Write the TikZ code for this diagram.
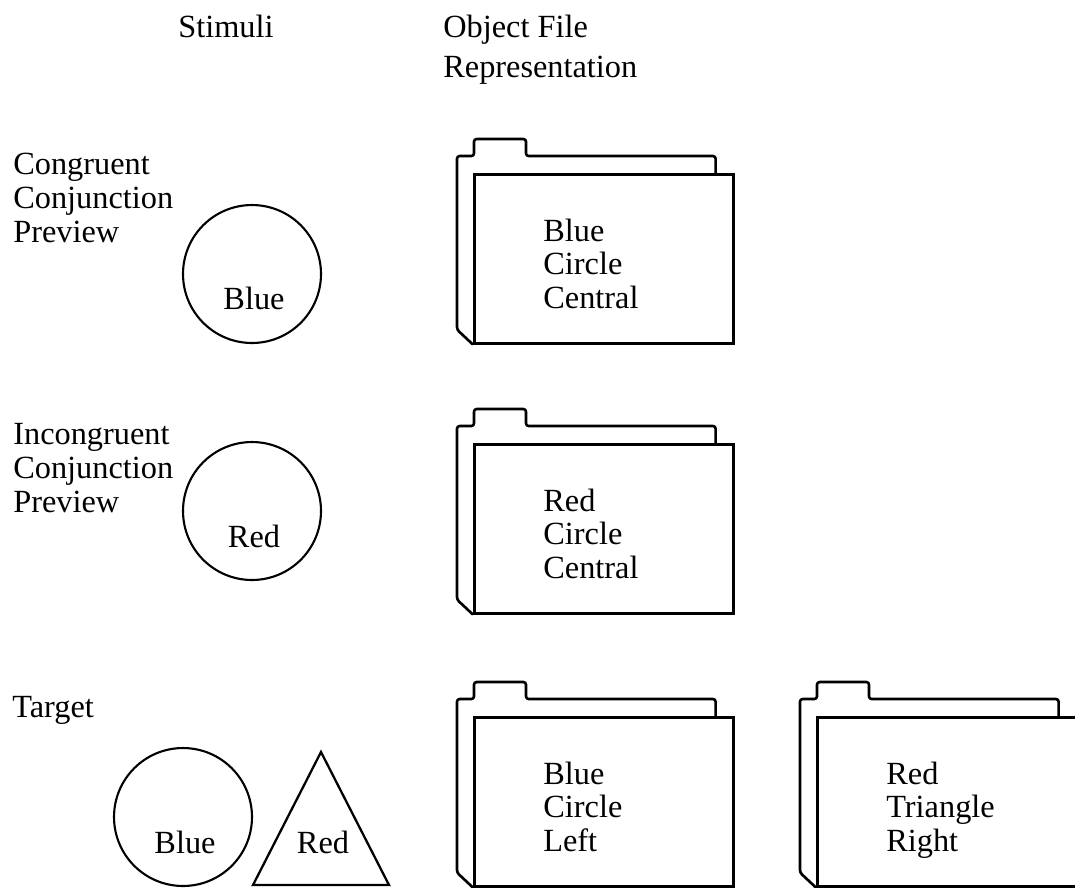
\documentclass[tikz,border=0pt]{standalone}
\usepackage{fontspec}
\setmainfont{Liberation Serif}
\usepackage{tikz}
\usetikzlibrary{positioning,calc}

\begin{document}
\begin{tikzpicture}[
    x=0.02cm, y=-0.02cm,
    heading/.style={align=left, inner sep=0pt, anchor=base west, font=\fontsize{18.4}{22.7}\selectfont},
    rowlabel/.style={align=left, inner sep=0pt, anchor=base west, font=\fontsize{18.4}{19.2}\selectfont},
    entry/.style={align=left, inner sep=0pt, anchor=base west, font=\fontsize{18.4}{18.8}\selectfont},
    stim/.style={circle, draw, line width=1.2pt, minimum size=2.76cm, inner sep=0pt},
    stimtext/.style={inner sep=0pt, anchor=base, font=\fontsize{18.4}{19}\selectfont},
    folder/.style={rectangle, draw, line width=1.5pt, anchor=north west, minimum width=5.18cm, minimum height=3.38cm},
    folderback/.style={draw, line width=1.5pt, rounded corners=1.5pt, line join=round}
]
    \useasboundingbox (0,0) rectangle (1075,887);

    % Column headings (base = last line)
    \node[heading] (stimuli) at (178,37) {Stimuli};
    \node[heading] (objfile) at (443,77) {Object File\\Representation};

    % Row labels
    \node[rowlabel] (congr) at (13,242) {Congruent\\Conjunction\\Preview};
    \node[rowlabel] (incongr) at (13,512) {Incongruent\\Conjunction\\Preview};
    \node[rowlabel] (target) at (12,717) {Target};

    % Stimuli
    \node[stim] (c1) at (252,274) {};
    \node[stimtext] (c1t) at ($(c1)+(2,35)$) {Blue};
    \node[stim] (c2) at (252,511) {};
    \node[stimtext] (c2t) at ($(c2)+(2,36)$) {Red};
    \node[stim] (c3) at (183,817) {};
    \node[stimtext] (c3t) at ($(c3)+(2,36)$) {Blue};
    \draw[line width=1.3pt, line join=miter] (253,885) -- (321,752) -- (389,885) -- cycle;
    \node[stimtext] (trit) at (323,853) {Red};

    % Object files (front sheet)
    \node[folder] (f1) at (473,173) {};
    \node[folder] (f2) at (473,443) {};
    \node[folder] (f3) at (473,716) {};
    \node[folder] (f4) at (816,716) {};

    % Back sheet with tab
    \foreach \f in {f1,f2,f3,f4}
        \draw[folderback] (\f.south west) -- ++(-16,-15) |- ($(\f.north west)+(1,-17)$)
            -- ++(0,-17) -- ++(52,0) -- ++(0,17) -| ($(\f.north east)+(-19,0)$);

    % File contents
    \node[entry] (f1t) at ($(f1.north west)+(70,135)$) {Blue\\Circle\\Central};
    \node[entry] (f2t) at ($(f2.north west)+(70,135)$) {Red\\Circle\\Central};
    \node[entry] (f3t) at ($(f3.north west)+(70,135)$) {Blue\\Circle\\Left};
    \node[entry] (f4t) at ($(f4.north west)+(70,135)$) {Red\\Triangle\\Right};
\end{tikzpicture}
\end{document}
